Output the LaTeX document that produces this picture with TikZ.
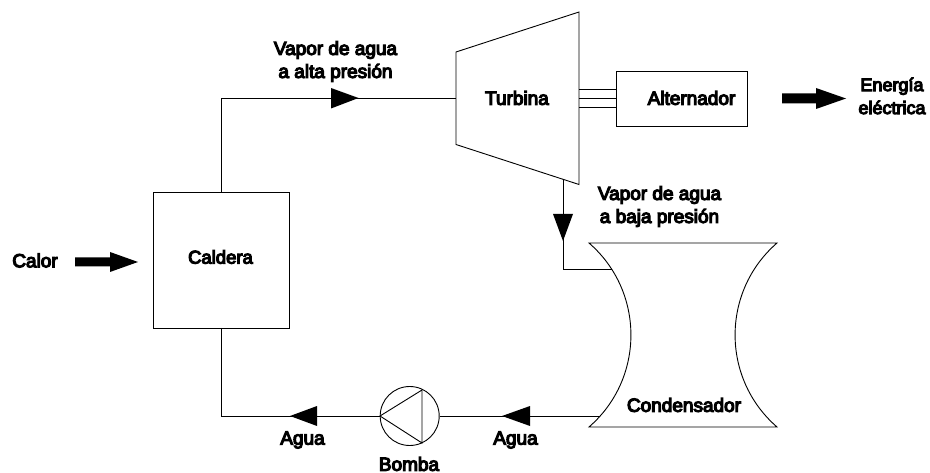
\documentclass[tikz,border=0pt]{standalone}
\usepackage{fontspec}
\setmainfont{Liberation Sans}[RawFeature={embolden=6}]
\tikzset{
  x=1pt,y=-1pt,
  line/.style={draw=black,line width=0.9pt},
  lab/.style={font=\fontsize{19}{23}\selectfont,align=center,inner sep=0pt,text=black},
  box/.style={draw=black,line width=0.9pt,fill=white,inner sep=0pt},
  head/.style={fill=black,draw=none}
}
\begin{document}
\begin{tikzpicture}
\useasboundingbox (0,0) rectangle (930,473);
% coordinates
\coordinate (tl) at (456,52); \coordinate (tr) at (579,12);
\coordinate (br) at (579,184.5); \coordinate (bl) at (456,144.5);
\coordinate (in) at (456,98.5);
\coordinate (tout) at (563,179.5);
\coordinate (b1) at (221,98.5);
\coordinate (c1) at (221,192);
\coordinate (c2) at (221,328);
\coordinate (b2) at (221,416);
\coordinate (v1) at (563,269);
\coordinate (ci) at (612,269);
\coordinate (co) at (600,416);
\coordinate (pl) at (380,416);
\coordinate (pr) at (439.5,416);
\coordinate (p1) at (422,390);
\coordinate (p2) at (422,443);
% turbine
\draw[line] (tl) -- (tr) -- (br) -- (bl) -- cycle;
\node[lab] (turbina) at (517,98) {Turbina};
% alternator
\node[box,minimum width=131pt,minimum height=55pt] (alt) at (682,98.5) {};
\node[lab] (altl) at (691.5,98) {Alternador};
\coordinate (s1r) at (616,89.5); \coordinate (s1l) at (579,89.5);
\coordinate (s2r) at (616,98); \coordinate (s2l) at (579,98);
\coordinate (s3r) at (616,107); \coordinate (s3l) at (579,107);
\draw[line] (s1l) -- (s1r) (s2l) -- (s2r) (s3l) -- (s3r);
% boiler
\node[box,minimum width=136pt,minimum height=136pt] (cal) at (221,260) {};
\node[lab,font=\fontsize{18.5}{23}\selectfont] (call) at (220.5,257) {Caldera};
% pipes
\draw[line] (c1) -- (b1) -- (in);
\draw[line] (c2) -- (b2) -- (pl);
\draw[line] (pr) -- (co);
\draw[line] (tout) -- (v1) -- (ci);
% pump
\node[draw=black,line width=0.9pt,circle,minimum size=59pt,inner sep=0pt] (pump) at (409.7,416) {};
\draw[line] (pl) -- (p1) -- (p2) -- cycle;
% condenser
\coordinate (ca) at (589,243); \coordinate (cb) at (777,243);
\coordinate (cc) at (777,427); \coordinate (cd) at (589,427);
\draw[line] (ca) -- (cb) .. controls (721.1,291.5) and (721.1,378.5) .. (cc)
  -- (cd) .. controls (644.9,378.5) and (644.9,291.5) .. (ca) -- cycle;
\node[lab] (cond) at (684,405) {Condensador};
% arrowheads
\fill[head] (358.5,98) -- (331,88) -- (331,108.5) -- cycle;
\fill[head] (563,241) -- (553,214) -- (573,214) -- cycle;
\fill[head] (290,416) -- (317,406) -- (317,426) -- cycle;
\fill[head] (502,416) -- (530,406) -- (530,426) -- cycle;
% big arrows
\fill[head] (782,93.5) -- (816,93.5) -- (816,88) -- (846,98.5) -- (816,109) -- (816,103.5) -- (782,103.5) -- cycle;
\fill[head] (75,257.5) -- (110,257.5) -- (110,252) -- (138,262) -- (110,272) -- (110,266.5) -- (75,266.5) -- cycle;
% labels
\node[lab] (l1) at (335.5,61.5) {Vapor de agua\\a alta presión};
\node[lab,font=\fontsize{18}{23}\selectfont] (l2) at (892,96) {Energía\\eléctrica};
\node[lab] (l3) at (659.5,206.5) {Vapor de agua\\a baja presión};
\node[lab] (l4) at (35,260.5) {Calor};
\node[lab] (l5) at (302.5,440) {Agua};
\node[lab] (l6) at (515.5,440) {Agua};
\node[lab] (l7) at (409,464) {Bomba};
\end{tikzpicture}
\end{document}
